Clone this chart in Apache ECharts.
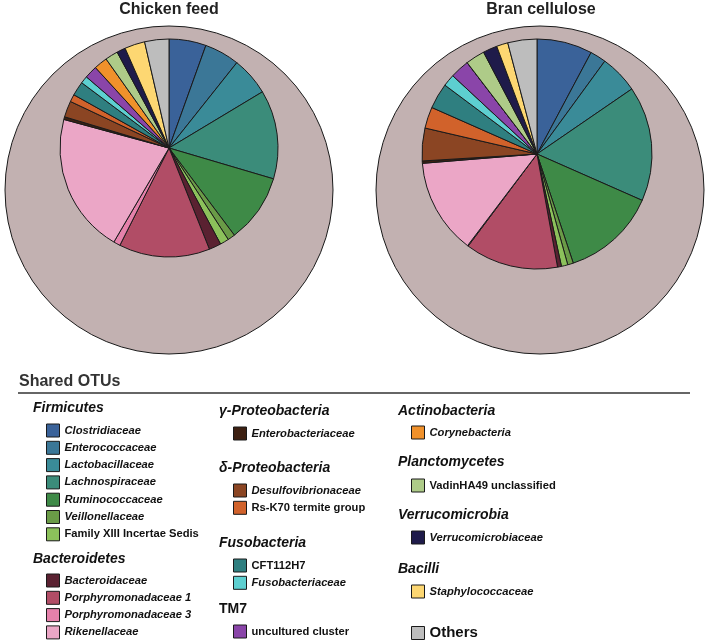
<!DOCTYPE html>
<html>
<head>
<meta charset="utf-8">
<script src="https://cdn.jsdelivr.net/npm/echarts@6/dist/echarts.min.js"></script>
<style>
html,body{margin:0;padding:0;background:#fff;}
#chart{width:708px;height:642px;}
</style>
</head>
<body>
<div id="chart"></div>
<script>
// ---- data ----
const categories = [
  'Clostridiaceae','Enterococcaceae','Lactobacillaceae','Lachnospiraceae','Ruminococcaceae',
  'Veillonellaceae','Family XIII Incertae Sedis',
  'Bacteroidaceae','Porphyromonadaceae 1','Porphyromonadaceae 3','Rikenellaceae',
  'Enterobacteriaceae','Desulfovibrionaceae','Rs-K70 termite group',
  'CFT112H7','Fusobacteriaceae','uncultured cluster',
  'Corynebacteria','VadinHA49 unclassified','Verrucomicrobiaceae','Staphylococcaceae','Others'
];
const chickenFeed = [5.5,5.2,5.7,13.2,10.2,1.1,1.3,1.8,13.5,1.0,20.8,0.4,2.4,1.1,2.1,1.1,1.9,2.0,1.9,1.3,3.0,3.6];
const branCellulose = [7.8,2.25,5.4,16.2,13.3,0.8,0.9,0.55,13.1,0.1,13.4,0.33,4.6,3.0,3.6,1.7,2.7,0,2.7,2.0,1.6,4.1];
const pieTitles = ['Chicken feed','Bran cellulose'];
const legendTitle = 'Shared OTUs';
const phylumNames = ['Firmicutes','Bacteroidetes','γ-Proteobacteria','δ-Proteobacteria','Fusobacteria','TM7',
  'Actinobacteria','Planctomycetes','Verrucomicrobia','Bacilli'];
const phylumMembers = [
  ['Clostridiaceae','Enterococcaceae','Lactobacillaceae','Lachnospiraceae','Ruminococcaceae','Veillonellaceae','Family XIII Incertae Sedis'],
  ['Bacteroidaceae','Porphyromonadaceae 1','Porphyromonadaceae 3','Rikenellaceae'],
  ['Enterobacteriaceae'],
  ['Desulfovibrionaceae','Rs-K70 termite group'],
  ['CFT112H7','Fusobacteriaceae'],
  ['uncultured cluster'],
  ['Corynebacteria'],
  ['VadinHA49 unclassified'],
  ['Verrucomicrobiaceae'],
  ['Staphylococcaceae']
];
const nonItalicNames = ['Family XIII Incertae Sedis','Rs-K70 termite group','CFT112H7','uncultured cluster','VadinHA49 unclassified','Others'];
const nonItalicPhyla = ['TM7'];

// ---- styles ----
const palette = ['#3a6299','#3b7797','#3a8b98','#3b8c7a','#3e8a47','#6a9b47','#8cc15b',
  '#5a2131','#b14d66','#e581ab','#eba6c6',
  '#3d2012','#8b4523','#d1622b','#2f7f80','#5dcfd0','#8a45a9',
  '#f0912b','#aecb88','#1f1b4a','#fdd772','#bdbdbd'];
const FONT = '"Liberation Sans", Arial, Helvetica, sans-serif';
const OUTER = '#c2b1b1';
const LINE = '#1a1a1a';

const layout = [
  {outerC:[169,190], outerR:164, innerC:[169,148], innerR:109, titleX:169},
  {outerC:[540,190], outerR:164, innerC:[537,154], innerR:115, titleX:541}
];
const seriesValues = [chickenFeed, branCellulose];

const series = [];
layout.forEach((L, i) => {
  series.push({
    type:'pie', name: pieTitles[i] + ' all', center: L.outerC, radius: L.outerR,
    silent:true, label:{show:false}, labelLine:{show:false}, z:1,
    itemStyle:{color:OUTER, borderColor:LINE, borderWidth:1},
    data:[{name:'All OTUs', value:1}]
  });
  series.push({
    type:'pie', name: pieTitles[i], center: L.innerC, radius: L.innerR,
    startAngle:90, clockwise:true, z:2,
    label:{show:false}, labelLine:{show:false}, emphasis:{disabled:true},
    itemStyle:{borderColor:LINE, borderWidth:1},
    data: categories.map((c, k) => ({name:c, value: seriesValues[i][k], itemStyle:{color: palette[k]}}))
  });
});

// legend positions (group layout)
const groupPos = [
  {hx:33, hy:408, lx:46, ly:423.5},
  {hx:33, hy:559, lx:46, ly:573.5},
  {hx:219, hy:411, lx:233, ly:426.5},
  {hx:219, hy:468, lx:233, ly:483.5},
  {hx:219, hy:543, lx:233, ly:558.5},
  {hx:219, hy:609, lx:233, ly:624.5},
  {hx:398, hy:411, lx:411, ly:425.5},
  {hx:398, hy:462, lx:411, ly:478.5},
  {hx:398, hy:515, lx:411, ly:530.5},
  {hx:398, hy:569, lx:411, ly:584.5}
];

const itemText = n => ({
  name:n,
  textStyle:{fontStyle: nonItalicNames.includes(n) ? 'normal' : 'italic'}
});

const legends = phylumMembers.map((members, g) => ({
  orient:'vertical', left: groupPos[g].lx, top: groupPos[g].ly, padding:0,
  width:200, height: members.length * 20 + 10,
  itemWidth:13, itemHeight:13, itemGap:3.3, itemTextGap:5, icon:'rect', selectedMode:false,
  itemStyle:{borderColor:LINE, borderWidth:1},
  textStyle:{fontFamily:FONT, fontSize:11.2, fontWeight:'bold', color:'#111', lineHeight:13},
  data: members.map(itemText)
}));
legends.push({
  orient:'vertical', left:411, top:625.5, padding:0, width:120, height:30,
  itemWidth:13, itemHeight:13, itemTextGap:5, icon:'rect', selectedMode:false,
  itemStyle:{borderColor:LINE, borderWidth:1},
  textStyle:{fontFamily:FONT, fontSize:15, fontWeight:'bold', color:'#111', lineHeight:13},
  data:[{name:'Others', textStyle:{fontStyle:'normal'}}]
});

const graphics = [];
layout.forEach((L, i) => {
  graphics.push({type:'text', x:L.titleX, y:10, z:10,
    style:{text:pieTitles[i], font:'bold 16px ' + FONT, fill:'#222', align:'center', verticalAlign:'middle'}});
});
graphics.push({type:'text', x:19, y:382, style:{text:legendTitle, font:'bold 16px ' + FONT, fill:'#333', verticalAlign:'middle'}});
graphics.push({type:'line', shape:{x1:18, y1:393, x2:690, y2:393}, style:{stroke:'#333', lineWidth:1.5}});
phylumNames.forEach((p, g) => {
  const st = nonItalicPhyla.includes(p) ? 'bold' : 'italic bold';
  graphics.push({type:'text', x:groupPos[g].hx, y:groupPos[g].hy,
    style:{text:p, font: st + ' 14px ' + FONT, fill:'#111', verticalAlign:'middle'}});
});

const chart = echarts.init(document.getElementById('chart'), null, {renderer:'canvas'});
chart.setOption({
  animation:false,
  backgroundColor:'#fff',
  legend: legends,
  graphic: graphics,
  series: series
});
</script>
</body>
</html>
